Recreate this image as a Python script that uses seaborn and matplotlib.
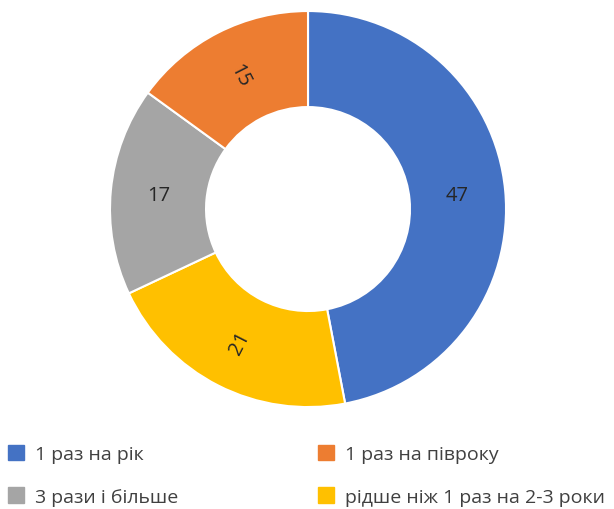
import matplotlib
matplotlib.use("Agg")
import matplotlib.pyplot as plt
from matplotlib.patches import Patch
import numpy as np
import seaborn as sns

# data (clockwise from top)
categories = ["1 раз на рік", "рідше ніж 1 раз на 2-3 роки", "3 рази і більше", "1 раз на півроку"]
values = [47, 21, 17, 15]
colors = ["#4472C4", "#FFC000", "#A5A5A5", "#ED7D31"]
label_rotation = [0, 63, 0, -63]

# legend order as in the picture (column by column)
legend_order = ["1 раз на рік", "3 рази і більше", "1 раз на півроку", "рідше ніж 1 раз на 2-3 роки"]

sns.set_theme(style="white")
plt.rcParams['font.family'] = ['Open Sans', 'DejaVu Sans']

fig = plt.figure(figsize=(6.14, 5.10), dpi=100)
ax = fig.add_axes([0.1759, 0.196, 0.6515, 0.7843])

wedges, texts = ax.pie(values, colors=colors, startangle=90, counterclock=False,
                       radius=1.0, wedgeprops=dict(width=0.485, edgecolor='white', linewidth=1.5))

# data labels in the middle of the ring
for w, v, rot in zip(wedges, values, label_rotation):
    mid = np.deg2rad((w.theta1 + w.theta2) / 2)
    r = 1.0 - 0.485 / 2
    ax.text(r * np.cos(mid), r * np.sin(mid), str(v), ha='center', va='center',
            fontsize=14.5, color='#262626', rotation=rot)

ax.set_xlim(-1.01, 1.01)
ax.set_ylim(-1.01, 1.01)
ax.set_aspect('equal')
ax.axis('off')

# legend
color_of = dict(zip(categories, colors))
handles = [Patch(facecolor=color_of[c], edgecolor=color_of[c]) for c in legend_order]
fig.legend(handles, legend_order, ncol=2, loc='upper left', bbox_to_anchor=(0.0, 0.141),
           frameon=False, fontsize=14, handlelength=0.82, handleheight=0.82,
           handletextpad=0.57, columnspacing=7.2, labelspacing=1.25, borderaxespad=0,
           labelcolor='#404040')

plt.savefig("out.png", dpi=100, facecolor='white')
